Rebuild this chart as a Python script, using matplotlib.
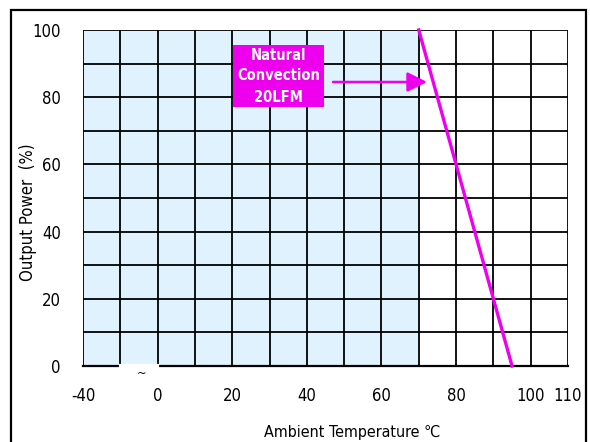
import numpy as np
import matplotlib
matplotlib.use("Agg")
import matplotlib.pyplot as plt
from matplotlib.patches import Rectangle

# ---- data ----
derating_temp = [70, 95]          # °C
derating_power = [100, 0]         # %
shade_range = [-40, 70]
grid_temps = [-40, -20, 0, 10, 20, 30, 40, 50, 60, 70, 80, 90, 100, 110]
label_temps = [-40, 0, 20, 40, 60, 80, 100, 110]
y_grid = [10, 20, 30, 40, 50, 60, 70, 80, 90, 100]
y_labels = [0, 20, 40, 60, 80, 100]
note_text = "Natural\nConvection\n20LFM"

MAG = "#EE00EE"
BLUE = "#DFF2FD"
plt.rcParams["font.family"] = ["DejaVu Sans"]
plt.rcParams["font.stretch"] = "condensed"

def fwd(t):
    t = np.asarray(t, dtype=float)
    return np.where(t < 0, (t + 40) / 20.0, 2 + t / 10.0)

def inv(p):
    p = np.asarray(p, dtype=float)
    return np.where(p < 2, p * 20.0 - 40, (p - 2) * 10.0)

fig = plt.figure(figsize=(5.9, 4.42), dpi=100)
W, H = 590, 442
ax = fig.add_axes([83 / W, 1 - 366 / H, (568 - 83) / W, (366 - 30) / H])
ax.set_xscale("function", functions=(fwd, inv))
ax.set_xlim(-40, 110)
ax.set_ylim(0, 100)

ax.axvspan(shade_range[0], shade_range[1], color=BLUE, zorder=0, lw=0)

for t in grid_temps:
    ax.plot([t, t], [0, 100], color="black", lw=1.3, zorder=1, solid_capstyle="butt")
for v in y_grid:
    ax.plot([grid_temps[0], grid_temps[-1]], [v, v], color="black", lw=1.3, zorder=1)
ax.plot([grid_temps[0], grid_temps[1]], [0, 0], color="black", lw=1.6, zorder=1, clip_on=False)
ax.plot([grid_temps[2], grid_temps[-1]], [0, 0], color="black", lw=1.6, zorder=1, clip_on=False)
ax.plot([grid_temps[1] + 0.5, grid_temps[2] - 0.5], [0, 0], color="white", lw=3, zorder=1.5, clip_on=False)
ax.text(0.1215, -0.003, "~", transform=ax.transAxes, ha="center", va="top", fontsize=9)

for s in ax.spines.values():
    s.set_visible(False)

ax.set_xticks(label_temps)
ax.set_xticklabels([str(t) for t in label_temps])
ax.set_yticks(y_labels)
ax.set_yticklabels([str(v) for v in y_labels])
ax.tick_params(length=0, labelsize=12)
ax.tick_params(axis="x", pad=15)
ax.tick_params(axis="y", pad=16)
ax.minorticks_off()

ax.plot(derating_temp, derating_power, color=MAG, lw=2.4, zorder=3, clip_on=False)

bx0, by0 = (233 - 83) / 485, (366 - 107) / 336
bw, bh = 91 / 485, 62 / 336
ax.add_patch(Rectangle((bx0, by0), bw, bh, transform=ax.transAxes, facecolor=MAG,
                       edgecolor="none", zorder=4))
ax.text(bx0 + bw / 2, by0 + bh / 2, note_text, transform=ax.transAxes, ha="center",
        va="center", color="white", fontsize=10.5, fontweight="bold", linespacing=1.5, zorder=5)
ax.annotate("", xy=((427 - 83) / 485, (366 - 82) / 336), xycoords="axes fraction",
            xytext=((333 - 83) / 485, (366 - 82) / 336), textcoords="axes fraction",
            arrowprops=dict(arrowstyle="-|>,head_length=0.6,head_width=0.3", mutation_scale=20,
                            lw=1.8, color=MAG, shrinkA=0, shrinkB=0), zorder=5)

fig.text(28 / W, 1 - 212 / H, "Output Power  (%)", rotation=90, ha="center", va="center", fontsize=12)
fig.text(352 / W, 1 - 433 / H, "Ambient Temperature \u2103", ha="center", va="center", fontsize=11.5)

fig.patches.append(Rectangle((11 / W, -0.1), (586 - 11) / W, 1.1 - 10 / H, transform=fig.transFigure,
                             fill=False, edgecolor="black", lw=1.6))

fig.savefig("out.png", dpi=100)
